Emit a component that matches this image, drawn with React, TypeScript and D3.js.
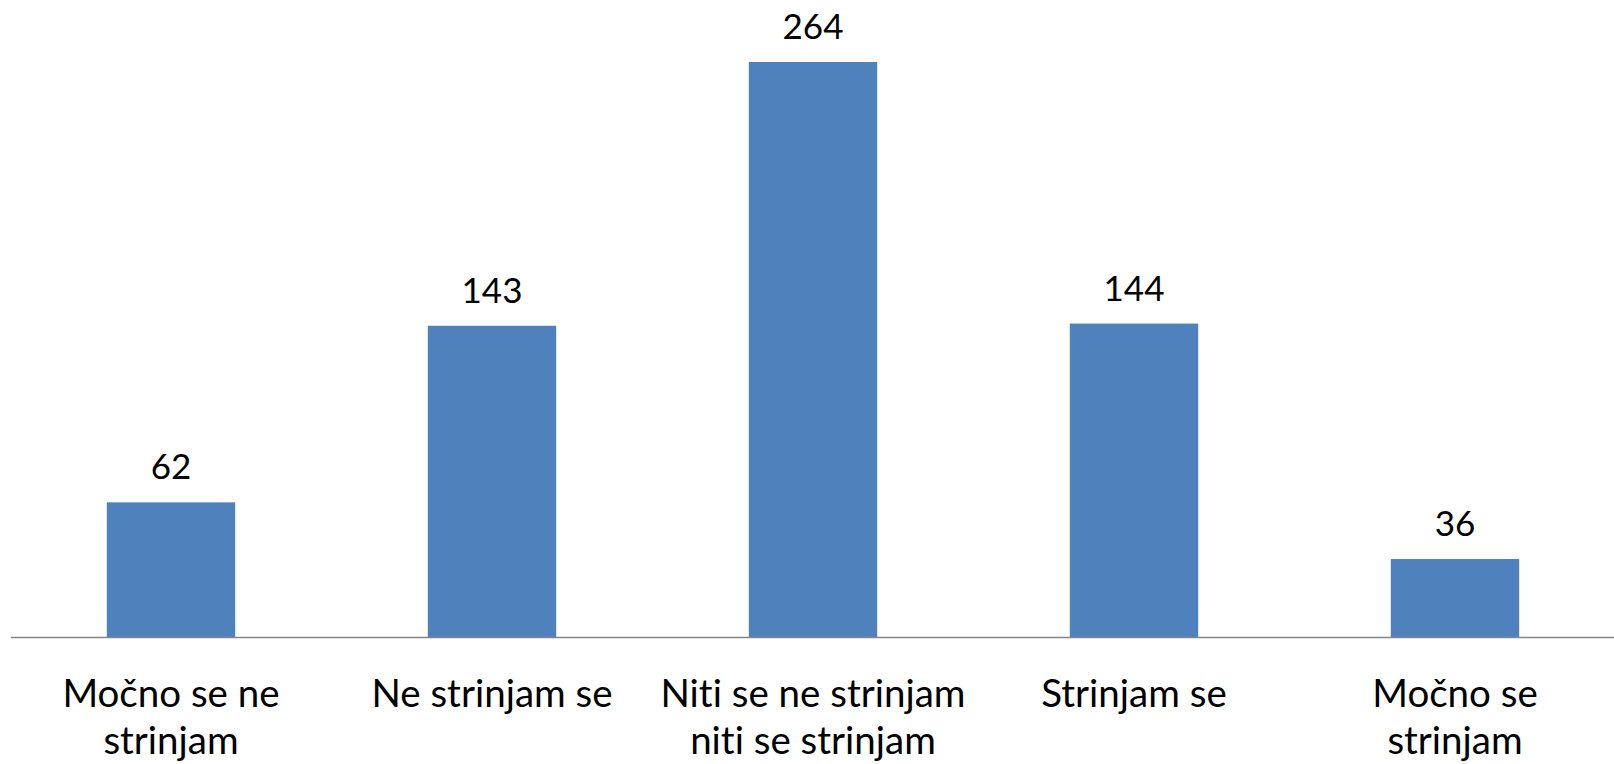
import React from "react";
import * as d3 from "d3";

const categories = [
  "Močno se ne\nstrinjam",
  "Ne strinjam se",
  "Niti se ne strinjam\nniti se strinjam",
  "Strinjam se",
  "Močno se\nstrinjam",
];
const values = [62, 143, 264, 144, 36];

const W = 1614;
const H = 764;

export default function App() {
  const x = d3
    .scaleBand<string>()
    .domain(categories)
    .range([10.5, 1615.5])
    .paddingInner(0.6)
    .paddingOuter(0.3);
  const y = d3.scaleLinear().domain([0, 264]).range([637.5, 62]);
  const font = "Lato, 'Open Sans', sans-serif";
  const ts = { fontVariantLigatures: "none" as const };
  return (
    <svg
      width={W}
      height={H}
      style={{ position: "absolute", left: 0, top: 0, background: "#fff" }}
    >
      {categories.map((c, i) => (
        <g key={c}>
          <rect
            x={x(c)!}
            y={y(values[i])}
            width={x.bandwidth()}
            height={y(0) - y(values[i])}
            fill="#4F81BD"
          />
          <text
            x={x(c)! + x.bandwidth() / 2}
            y={y(values[i]) - 23}
            textAnchor="middle"
            fontFamily={font}
            fontSize={35}
            fill="#000"
            style={ts}
          >
            {values[i]}
          </text>
          {c.split("\n").map((line, j) => (
            <text
              key={j}
              x={x(c)! + x.bandwidth() / 2}
              y={706.5 + j * 47.5}
              textAnchor="middle"
              fontFamily={font}
              fontSize={38.5}
              fill="#000"
              style={ts}
            >
              {line}
            </text>
          ))}
        </g>
      ))}
      <line x1={11} x2={W} y1={637.5} y2={637.5} stroke="#868686" strokeWidth={1.5} />
    </svg>
  );
}
